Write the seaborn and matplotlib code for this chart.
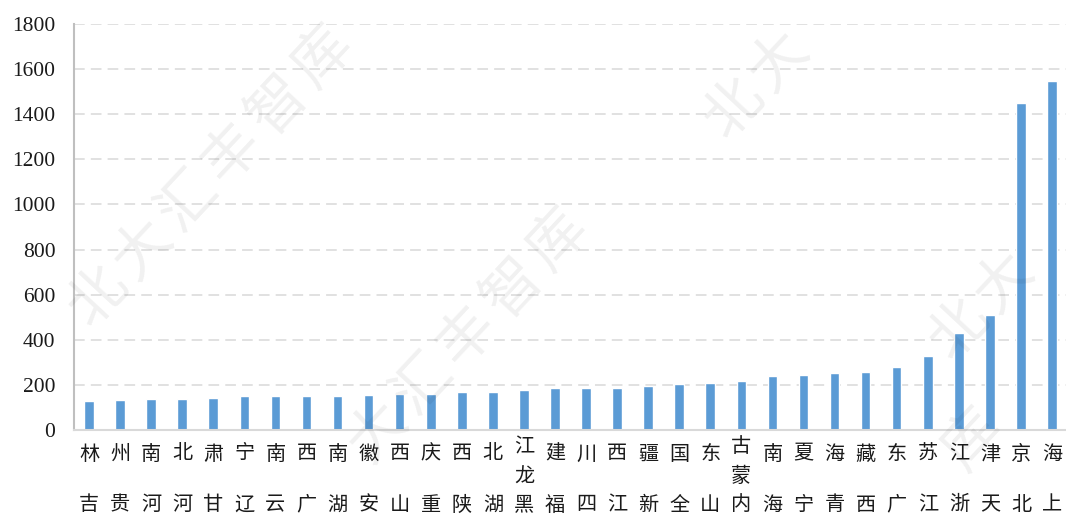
import numpy as np
import matplotlib
matplotlib.use('Agg')
import matplotlib.pyplot as plt
import matplotlib.transforms as mtransforms
import seaborn as sns

# === Data ===
provinces = ['吉林', '贵州', '河南', '河北', '甘肃', '辽宁', '云南', '广西',
             '湖南', '安徽', '山西', '重庆', '陕西', '湖北', '黑龙江', '福建',
             '四川', '江西', '新疆', '全国', '山东', '内蒙古', '海南', '宁夏',
             '青海', '西藏', '广东', '江苏', '浙江', '天津', '北京', '上海']
values = [130, 133, 137, 137, 144, 151, 151, 151,
          151, 156, 160, 160, 167, 170, 176, 188,
          188, 188, 197, 203, 209, 216, 240, 244,
          253, 259, 279, 328, 430, 511, 1448, 1548]
y_ticks = list(range(0, 1801, 200))

watermark = '北大汇丰智库'

# === Style ===
sns.set_style('white')
plt.rcParams['font.family'] = ['Noto Sans CJK SC', 'DejaVu Sans']

W, H = 1066, 518
fig = plt.figure(figsize=(W / 100, H / 100), dpi=100)
ax = fig.add_axes([73.5 / W, 88 / H, 994 / W, 406 / H])

# === Bars ===
sns.barplot(x=provinces, y=values, color='#5B9BD5', saturation=1,
            width=0.31, ax=ax, zorder=2)

ax.set_xlim(-0.5, len(provinces) - 0.5)
ax.set_ylim(0, 1800)
ax.set_yticks(y_ticks)
ax.set_yticklabels([str(t) for t in y_ticks], family='Liberation Serif',
                   fontsize=15.5, color='#1a1a1a')
ax.tick_params(axis='y', length=0, pad=13)
ax.tick_params(axis='x', length=0)
ax.set_xticklabels([])
ax.set_xlabel('')
ax.set_ylabel('')

ax.yaxis.grid(True, linestyle=(0, (7, 4)), color='#d9d9d9', linewidth=1.1)
ax.set_axisbelow(True)

for s in ['top', 'right']:
    ax.spines[s].set_visible(False)
ax.spines['left'].set_color('#bfbfbf')
ax.spines['left'].set_linewidth(1.5)
ax.spines['bottom'].set_color('#d9d9d9')
ax.spines['bottom'].set_linewidth(1.5)

# === Stacked category labels (read bottom to top) ===
trans = mtransforms.blended_transform_factory(ax.transData, fig.transFigure)
for i, name in enumerate(provinces):
    chars = list(reversed(name))
    rows = [454, 505] if len(chars) == 2 else [447, 477, 505]
    for ch, ypix in zip(chars, rows):
        ax.text(i, 1 - ypix / H, ch, transform=trans, ha='center', va='center',
                fontsize=14.5, color='#1a1a1a', clip_on=False)

# === Watermark, one glyph at a time, skipping glyphs that would be clipped ===
step_x, step_y = 45, -48
margin = 42
for cx, cy in [(210, 177), (445, 360), (846, -11), (1071, 210), (860, 560)]:
    for k, ch in enumerate(watermark):
        off = k - (len(watermark) - 1) / 2
        px, py = cx + off * step_x, cy + off * step_y
        if px < margin or px > W - margin or py < margin or py > H - margin:
            continue
        fig.text(px / W, 1 - py / H, ch, rotation=47, ha='center',
                 va='center', fontsize=42, color='black', alpha=0.06)

fig.savefig('out.png', dpi=100)
